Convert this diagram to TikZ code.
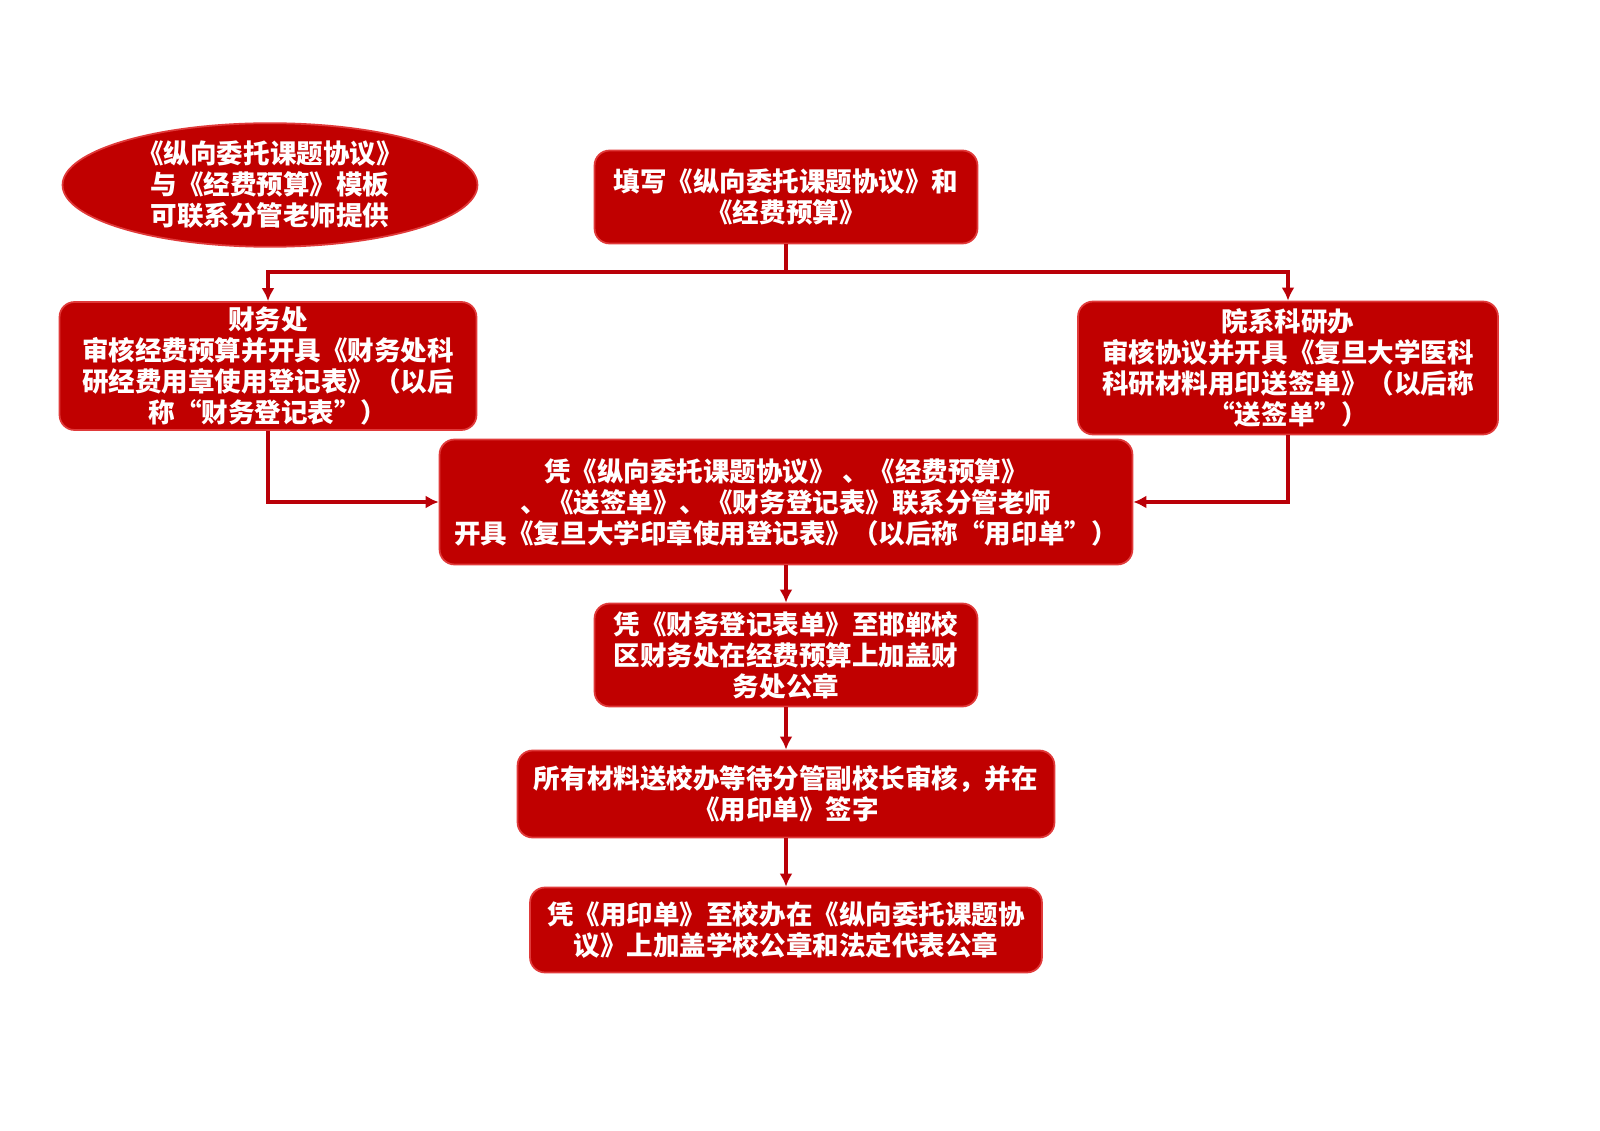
\documentclass[tikz,border=0pt]{standalone}
\usepackage{fontspec}
\setmainfont{Noto Sans CJK SC}
\usetikzlibrary{arrows.meta,shapes.geometric}
\tikzset{>={Latex[length=2.6mm,width=2.6mm]}}
\definecolor{boxred}{HTML}{C00000}
\definecolor{edgered}{HTML}{E03A3A}
\definecolor{linered}{HTML}{BA0008}

\begin{document}
\begin{tikzpicture}[x=0.02cm,y=-0.02cm,
    stepbox/.style={draw=edgered,line width=1pt,fill=boxred,rounded corners=0.3cm,
      text=white,align=center,inner sep=0pt,
      font=\fontsize{15.1pt}{17.6pt}\selectfont\bfseries},
    startoval/.style={stepbox,ellipse,rounded corners=0pt},
    flowline/.style={draw=linered,line width=2.2pt}]
       \useasboundingbox (0,0) rectangle (1600,1131);
       \node[startoval,minimum width=8.3cm,minimum height=2.3cm] (muban) at (270,185)
         {《纵向委托课题协议》\\与《经费预算》模板\\可联系分管老师提供};
       \node[stepbox,minimum width=7.66cm,minimum height=1.86cm] (tianxie) at (786,197)
         {填写《纵向委托课题协议》和\\《经费预算》};
       \node[stepbox,minimum width=8.34cm,minimum height=2.56cm] (caiwu) at (268,366)
         {财务处\\审核经费预算并开具《财务处科\\研经费用章使用登记表》（以后\\称“财务登记表”）};
       \node[stepbox,minimum width=8.4cm,minimum height=2.66cm] (yuanxi) at (1288,368)
         {院系科研办\\审核协议并开具《复旦大学医科\\科研材料用印送签单》（以后称\\“送签单”）};
       \node[stepbox,minimum width=13.86cm,minimum height=2.5cm] (pingzheng) at (786,502)
         {凭《纵向委托课题协议》 、《经费预算》\\、《送签单》、《财务登记表》联系分管老师\\开具《复旦大学印章使用登记表》（以后称“用印单”）};
       \node[stepbox,minimum width=7.66cm,minimum height=2.06cm] (gaizhang) at (786,655)
         {凭《财务登记表单》至邯郸校\\区财务处在经费预算上加盖财\\务处公章};
       \node[stepbox,minimum width=10.74cm,minimum height=1.74cm] (xiaoban) at (786,794)
         {所有材料送校办等待分管副校长审核，并在\\《用印单》签字};
       \node[stepbox,minimum width=10.24cm,minimum height=1.7cm] (yongyin) at (786,930)
         {凭《用印单》至校办在《纵向委托课题协\\议》上加盖学校公章和法定代表公章};
       \coordinate (fencha) at (786,272);
       \draw[flowline] (tianxie.south) -- (fencha);
       \draw[flowline,->] (fencha) -| (caiwu.north);
       \draw[flowline,->] (fencha) -| (yuanxi.north);
       \draw[flowline,->] (caiwu.south) |- (pingzheng.west);
       \draw[flowline,->] (yuanxi.south) |- (pingzheng.east);
       \draw[flowline,->] (pingzheng.south) -- (gaizhang.north);
       \draw[flowline,->] (gaizhang.south) -- (xiaoban.north);
       \draw[flowline,->] (xiaoban.south) -- (yongyin.north);
\end{tikzpicture}
\end{document}
